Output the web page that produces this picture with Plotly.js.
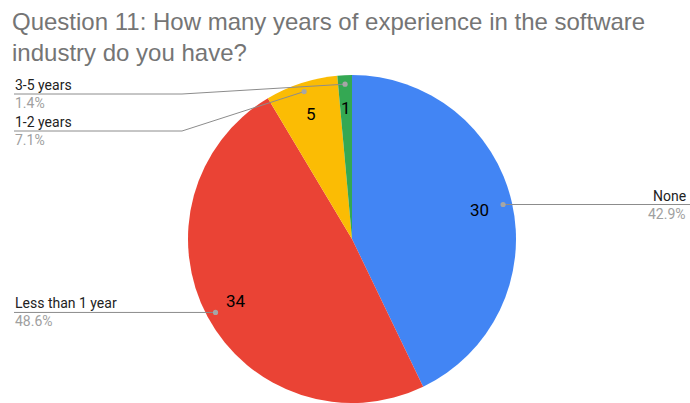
<!DOCTYPE html>
<html>
<head>
<meta charset="utf-8">
<script src="https://cdn.plot.ly/plotly-3.0.1.min.js"></script>
<style>
  html, body { margin: 0; padding: 0; background: #ffffff; }
  #chart { width: 690px; height: 403px; }
</style>
</head>
<body>
<div id="chart"></div>
<script>
// Survey answers: years of experience in the software industry
const categories = ['None', 'Less than 1 year', '1-2 years', '3-5 years'];
const counts = [30, 34, 5, 1];
const sliceColors = ['#4285F4', '#EA4335', '#FBBC04', '#34A853'];
const chartTitle = 'Question 11: How many years of experience in the software<br>industry do you have?';

// Figure and pie geometry (pixels)
const W = 690, H = 403;
const CX = 352, CY = 239, R = 164;
const LABEL_FONT = 'Roboto, Arial, sans-serif';
const LINE_COLOR = '#8c8c8c';
const DOT_COLOR = '#a6a6a6';

const px = x => x / W;
const py = y => 1 - y / H;

const total = counts.reduce((a, b) => a + b, 0);

// Mid angle of every slice, clockwise from 12 o'clock
let acc = 0;
const mids = counts.map(v => {
  const a0 = acc / total * 2 * Math.PI;
  acc += v;
  const a1 = acc / total * 2 * Math.PI;
  return (a0 + a1) / 2;
});
const polar = (a, rf) => [CX + rf * R * Math.sin(a), CY - rf * R * Math.cos(a)];

const shapes = [];
const annotations = [];

// Value labels inside the slices
counts.forEach((v, i) => {
  const [x, y] = polar(mids[i], 0.8);
  annotations.push({
    x: px(x), y: py(y), xref: 'paper', yref: 'paper',
    xanchor: 'center', yanchor: 'middle', showarrow: false,
    text: String(v), font: {family: LABEL_FONT, size: 17, color: '#000000'}
  });
});

// Outside labels with leader lines, stacked so that they do not overlap
const items = counts.map((v, i) => {
  const [dx, dy] = polar(mids[i], 0.945);
  return {i, dx, dy, right: Math.sin(mids[i]) > 0};
});
const TOP_LIMIT = 94, GAP = 37;
[true, false].forEach(side => {
  const group = items.filter(it => it.right === side).sort((a, b) => a.dy - b.dy);
  let prev = -Infinity;
  group.forEach(it => {
    it.ly = Math.max(it.dy, prev + GAP, TOP_LIMIT);
    prev = it.ly;
  });
});

items.forEach(it => {
  const pct = (counts[it.i] / total * 100).toFixed(1) + '%';
  const endX = it.right ? W : 14;
  const elbowX = it.right ? CX + R + 6 : CX - R - 6;
  const pts = [[it.dx, it.dy]];
  if (Math.abs(it.ly - it.dy) > 0.5) pts.push([elbowX, it.ly]);
  pts.push([endX, it.ly]);
  const path = pts.map((p, k) => (k ? 'L' : 'M') + px(p[0]) + ',' + py(p[1])).join(' ');
  shapes.push({type: 'path', xref: 'paper', yref: 'paper', path: path,
               line: {color: LINE_COLOR, width: 1}});
  const rd = 2.6;
  shapes.push({type: 'circle', xref: 'paper', yref: 'paper',
               x0: px(it.dx - rd), x1: px(it.dx + rd), y0: py(it.dy + rd), y1: py(it.dy - rd),
               fillcolor: DOT_COLOR, line: {width: 0}});
  const tx = it.right ? 687 : 14;
  const xa = it.right ? 'right' : 'left';
  annotations.push({
    x: px(tx), y: py(it.ly), xref: 'paper', yref: 'paper',
    xanchor: xa, yanchor: 'bottom', showarrow: false, borderpad: 0,
    text: categories[it.i], font: {family: LABEL_FONT, size: 14, color: '#222222'}
  });
  annotations.push({
    x: px(tx), y: py(it.ly), xref: 'paper', yref: 'paper',
    xanchor: xa, yanchor: 'top', showarrow: false, borderpad: 0,
    text: pct, font: {family: LABEL_FONT, size: 14, color: '#a0a0a0'}
  });
});

const trace = {
  type: 'pie',
  labels: categories,
  values: counts,
  sort: false,
  direction: 'clockwise',
  rotation: 0,
  textinfo: 'none',
  marker: {colors: sliceColors, line: {width: 0}},
  domain: {x: [px(CX - R), px(CX + R)], y: [py(CY + R), py(CY - R)]},
  hoverinfo: 'label+value+percent'
};

const layout = {
  width: W, height: H,
  margin: {l: 0, r: 0, t: 0, b: 0},
  paper_bgcolor: '#ffffff',
  showlegend: false,
  title: {
    text: chartTitle,
    x: 12 / W, xanchor: 'left', xref: 'paper',
    y: 1 - 30 / H, yanchor: 'bottom', yref: 'container',
    font: {family: 'Arial, "Liberation Sans", sans-serif', size: 24, color: '#757575'}
  },
  shapes: shapes,
  annotations: annotations
};

Plotly.newPlot('chart', [trace], layout, {displayModeBar: false, staticPlot: true});
</script>
</body>
</html>
